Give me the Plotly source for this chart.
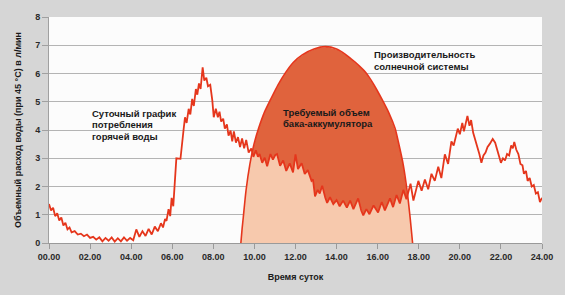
import numpy as np
import plotly.graph_objects as go

# Demand (hot water consumption) curve: hour, l/min
demand_h = [0.0, 0.1, 0.2, 0.3, 0.4, 0.5, 0.6, 0.7, 0.8, 0.9, 1.0, 1.1, 1.25, 1.4, 1.55, 1.7, 1.85,
            2.0, 2.15, 2.3, 2.45, 2.6, 2.75, 2.9, 3.05, 3.2, 3.35, 3.5, 3.65, 3.8, 3.95, 4.1, 4.25,
            4.4, 4.55, 4.7, 4.85, 5.0, 5.15, 5.3, 5.45, 5.55, 5.65, 5.72, 5.82, 5.9, 5.97, 6.05,
            6.2, 6.4, 6.55, 6.62, 6.7, 6.8, 6.88, 6.97, 7.05, 7.15, 7.22, 7.3, 7.38, 7.48, 7.56,
            7.66, 7.74, 7.85, 7.95, 8.02, 8.12, 8.22, 8.3, 8.38, 8.48, 8.56, 8.66, 8.74, 8.84,
            8.92, 9.0, 9.1, 9.2, 9.3, 9.4, 9.5, 9.6, 9.72, 9.85, 9.95, 10.07, 10.17, 10.25, 10.38,
            10.5, 10.62, 10.78, 10.9, 11.02, 11.1, 11.25, 11.4, 11.55, 11.72, 11.88, 12.0, 12.12,
            12.3, 12.45, 12.6, 12.78, 12.85, 12.95, 13.08, 13.18, 13.3, 13.45, 13.54, 13.68, 13.84,
            14.0, 14.15, 14.32, 14.5, 14.66, 14.82, 15.05, 15.2, 15.3, 15.45, 15.6, 15.8, 16.02,
            16.2, 16.35, 16.6, 16.75, 16.92, 17.08, 17.25, 17.4, 17.6, 17.74, 17.98, 18.14, 18.3,
            18.46, 18.62, 18.78, 18.95, 19.1, 19.27, 19.43, 19.59, 19.7, 19.9, 20.0, 20.12, 20.2,
            20.37, 20.47, 20.55, 20.65, 20.75, 20.85, 20.95, 21.05, 21.15, 21.25, 21.35, 21.45,
            21.6, 21.72, 21.85, 22.0, 22.1, 22.2, 22.3, 22.4, 22.5, 22.58, 22.65, 22.75, 22.85,
            22.95, 23.05, 23.12, 23.22, 23.3, 23.4, 23.5, 23.6, 23.7, 23.8, 23.9, 24.0]
demand_v = [1.38, 1.15, 1.25, 0.95, 1.05, 0.8, 0.9, 0.62, 0.72, 0.48, 0.55, 0.38, 0.42, 0.3, 0.33, 0.24, 0.3,
            0.18, 0.22, 0.12, 0.2, 0.06, 0.18, 0.08, 0.2, 0.05, 0.17, 0.06, 0.2, 0.08, 0.18, 0.1, 0.48,
            0.22, 0.42, 0.25, 0.5, 0.3, 0.58, 0.42, 0.7, 0.55, 0.85, 0.78, 1.2, 0.95, 1.6, 1.3,
            3.0, 2.98, 4.0, 4.45, 4.25, 4.75, 4.55, 5.1, 4.85, 5.45, 5.25, 5.65, 5.45, 6.22, 5.75,
            5.85, 5.55, 5.6, 5.05, 4.45, 4.75, 4.45, 4.65, 4.3, 4.4, 4.05, 4.2, 3.8, 3.98,
            3.6, 3.95, 3.55, 3.75, 3.4, 3.7, 3.35, 3.65, 3.2, 3.35, 3.05, 3.28, 3.05, 3.15, 2.84,
            3.02, 2.72, 3.15, 2.95, 3.12, 3.15, 2.73, 2.92, 2.55, 2.82, 2.5, 3.14, 2.62,
            2.82, 2.44, 2.58, 2.2, 2.25, 1.65, 1.88, 1.75, 2.03, 1.6, 1.42, 1.62, 1.38,
            1.52, 1.3, 1.5, 1.25, 1.5, 1.2, 1.58, 1.15, 0.98, 1.2, 1.02, 1.33, 1.08,
            1.45, 1.15, 1.58, 1.27, 1.7, 1.4, 1.88, 1.55, 2.1, 1.5, 2.2, 1.85, 2.25,
            1.9, 2.45, 2.2, 2.7, 2.3, 3.14, 2.8, 3.6, 3.45, 4.05, 3.85, 4.25, 3.95,
            4.5, 4.15, 4.35, 3.9, 3.65, 3.45, 3.15, 2.84, 3.1, 3.2, 3.4, 3.5,
            3.68, 3.55, 3.2, 2.84, 3.0, 2.92, 3.15, 3.1, 3.45, 3.35, 3.58, 3.3, 3.15,
            2.8, 2.75, 2.45, 2.55, 2.2, 2.3, 2.0, 2.05, 1.75, 1.8, 1.45, 1.6]

# Solar system output curve
solar_h = [9.34, 9.40, 9.46, 9.59, 9.78, 9.98, 10.2, 10.5, 10.8, 11.15, 11.53, 11.9, 12.33, 12.9,
           13.46, 14.0, 14.43, 14.9, 15.4, 15.8, 16.2, 16.55, 16.85, 17.0, 17.25, 17.45, 17.58,
           17.66, 17.7]
solar_v = [0.0, 0.5, 0.92, 1.85, 2.79, 3.5, 4.05, 4.65, 5.1, 5.6, 6.05, 6.4, 6.66, 6.87,
           6.95, 6.87, 6.68, 6.4, 6.05, 5.62, 5.1, 4.6, 4.05, 3.6, 2.75, 1.75, 0.9,
           0.3, 0.0]

x_tickvals = [0, 2, 4, 6, 8, 10, 12, 14, 16, 18, 20, 22, 24]
x_ticktext = ["00.00", "02.00", "04.00", "06.00", "08.00", "10.00", "12.00", "14.00",
              "16.00", "18.00", "20.00", "22.00", "24.00"]
y_tickvals = [0, 1, 2, 3, 4, 5, 6, 7, 8]

RED = "#e5361c"
DARK = "#e0633d"
LIGHT = "#f7c9ad"

grid = np.linspace(solar_h[0], solar_h[-1], 600)
s_g = np.interp(grid, solar_h, solar_v)
d_g = np.interp(grid, demand_h, demand_v)
lower = np.minimum(s_g, d_g)

fig = go.Figure()
fig.add_trace(go.Scatter(x=grid, y=lower, mode="lines", line=dict(width=0),
                         fill="tozeroy", fillcolor=LIGHT, hoverinfo="skip"))
fig.add_trace(go.Scatter(x=grid, y=s_g, mode="lines", line=dict(width=0),
                         fill="tonexty", fillcolor=DARK, hoverinfo="skip"))
fig.add_trace(go.Scatter(x=solar_h, y=solar_v, mode="lines",
                         line=dict(color=RED, width=1.6, shape="spline", smoothing=0.6)))
fig.add_trace(go.Scatter(x=demand_h, y=demand_v, mode="lines",
                         line=dict(color=RED, width=1.8)))

L, R, T, B = 49, 21, 14, 52
W, H = 565, 295
pw, ph = W - L - R, H - T - B

def px_to_paper(px, py):
    return (px - L) / pw, (H - B - py) / ph

ann = []
def add_text(txt, px, py, size=9.5):
    x, y = px_to_paper(px, py)
    ann.append(dict(text="<b>" + txt + "</b>", x=x, y=y, xref="paper", yref="paper", xanchor="left",
                    yanchor="middle", showarrow=False,
                    font=dict(family="Liberation Sans, Arial", size=size, color="#1a1a1a")))

add_text("Суточный график", 90, 111.7)
add_text("потребления", 90, 123.3)
add_text("горячей воды", 90, 135)
add_text("Требуемый объем", 282, 111)
add_text("бака-аккумулятора", 282, 122)
add_text("Производительность", 373, 52.5)
add_text("солнечной системы", 373, 64)

fig.update_layout(
    width=W, height=H,
    margin=dict(l=L, r=R, t=T, b=B),
    paper_bgcolor="#d6d6d6",
    plot_bgcolor="#fcfcfc",
    showlegend=False,
    annotations=ann,
    font=dict(family="Liberation Sans, Arial", color="#2a2a2a"),
)
fig.update_xaxes(range=[0, 24], tickvals=x_tickvals, ticktext=x_ticktext,
                 ticks="outside", ticklen=5, tickcolor="#9a9a9a", showgrid=False,
                 showline=True, linecolor="#9a9a9a", linewidth=1, zeroline=False,
                 tickfont=dict(size=9, family="Liberation Sans, Arial", weight="bold", color="#2a2a2a"),
                 title=dict(text="<b>Время суток</b>", font=dict(size=9, color="#1a1a1a"), standoff=12))
fig.update_yaxes(range=[0, 8], tickvals=y_tickvals, ticks="outside", ticklen=6,
                 tickcolor="#a0a0a0", showgrid=True, gridcolor="#b4b4b4", gridwidth=1,
                 showline=True, linecolor="#a0a0a0", linewidth=1, zeroline=False,
                 tickfont=dict(size=9, family="Liberation Sans, Arial", weight="bold", color="#2a2a2a"),
                 title=dict(text="<b>Объемный расход воды (при 45 °С) в л/мин</b>",
                            font=dict(size=9, color="#1a1a1a"), standoff=12))

fig.write_html("out.html")
